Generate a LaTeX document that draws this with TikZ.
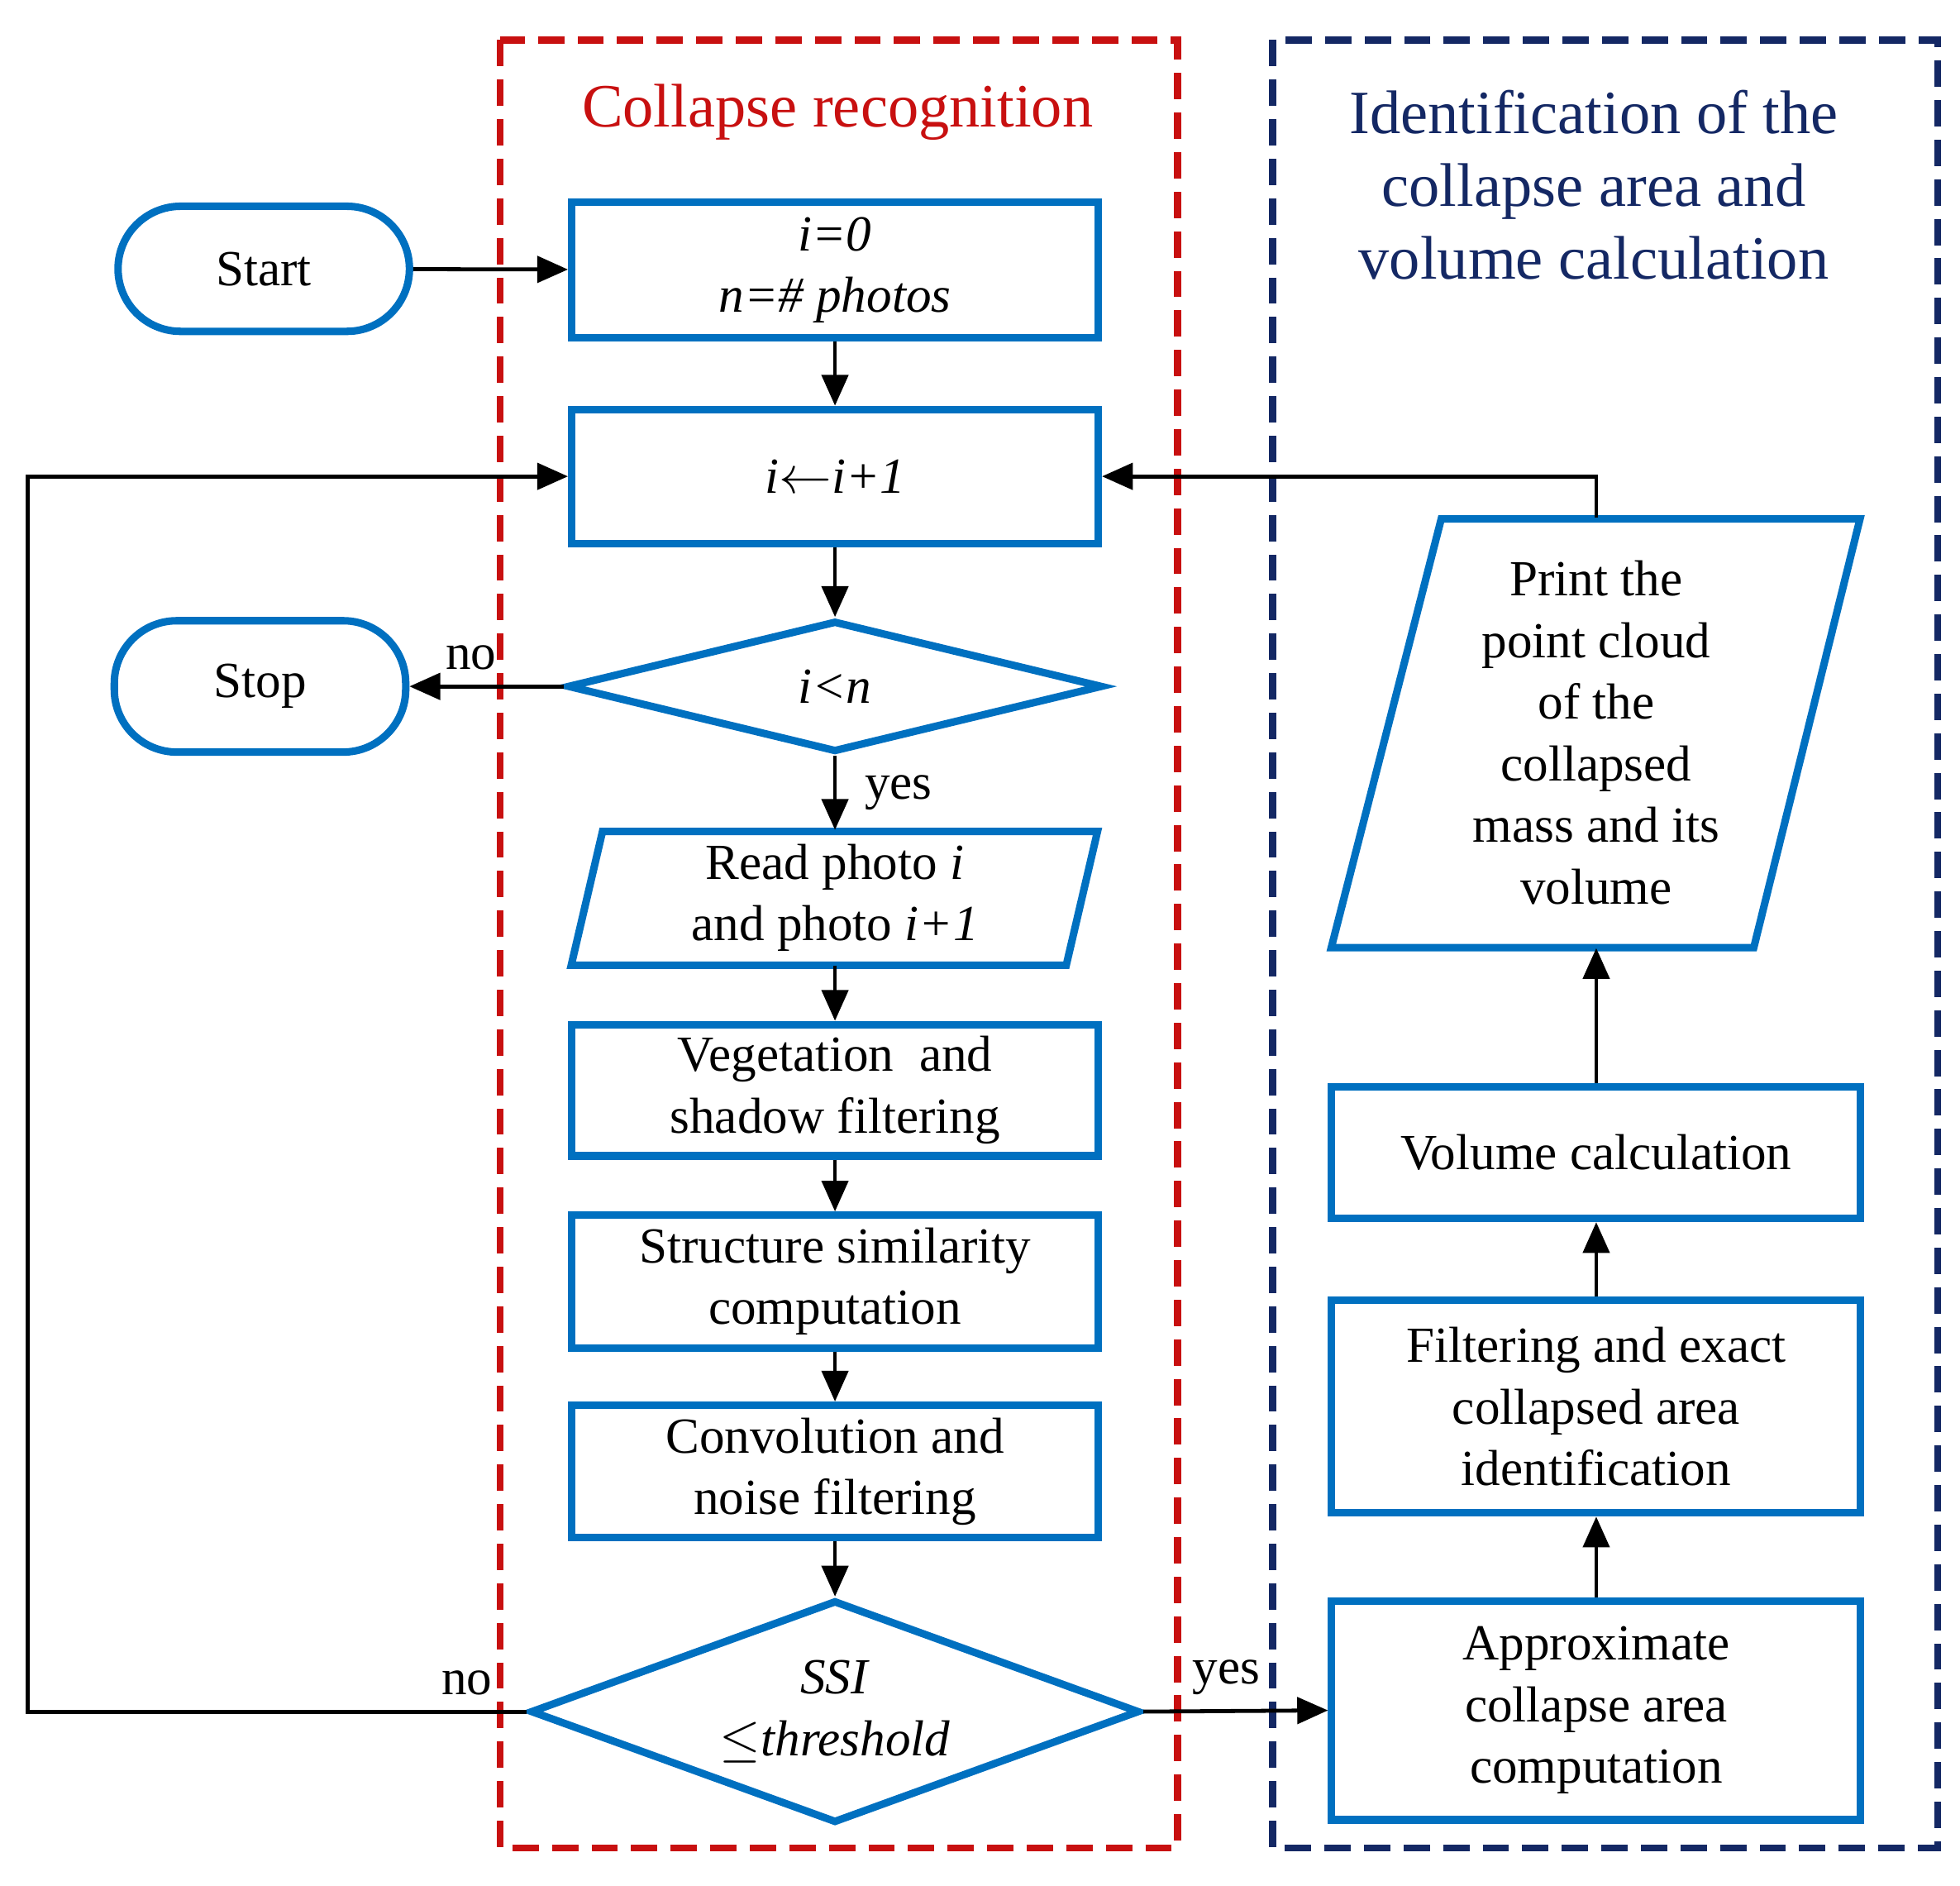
\documentclass[tikz,border=0pt]{standalone}
\usepackage{fontspec}
\setmainfont{Liberation Serif}
\usetikzlibrary{arrows.meta,shapes.geometric}
\definecolor{bl}{RGB}{0,112,192}
\definecolor{rd}{RGB}{200,16,16}
\definecolor{nv}{RGB}{20,40,100}
\begin{document}
\begin{tikzpicture}[x=0.01cm,y=-0.01cm,
 box/.style={draw=bl,line width=1.7pt,rectangle,minimum width=4.21cm,align=center,font=\fontsize{11.5}{14}\selectfont,inner sep=0pt},
 term/.style={draw=bl,line width=1.7pt,rounded corners=0.5cm,minimum width=2.33cm,minimum height=1.0cm,font=\fontsize{11.5}{14}\selectfont},
 dia/.style={draw=bl,line width=1.7pt,diamond,aspect=4,inner sep=0pt,font=\fontsize{11.5}{14}\selectfont,align=center},
 ghost/.style={rectangle,inner sep=0pt,align=center,font=\fontsize{11.5}{14}\selectfont},
 par/.style={draw=bl,line width=1.7pt,line join=miter},
 ar/.style={-{Triangle[length=7pt,width=6pt]},line width=0.9pt},
 lab/.style={font=\fontsize{11.5}{14}\selectfont},
 tit/.style={font=\fontsize{14}{16.5}\selectfont,align=center},
 dsh/.style={line width=1.6pt,dash pattern=on 6pt off 3pt}]
\useasboundingbox (0,0) rectangle (1568,1508);
\draw[rd,dsh] (400,32) rectangle (942,1478);
\draw[nv,dsh] (1018,32) rectangle (1550,1478);
\node[tit,text=rd] at (670,90) {Collapse recognition};
\node[tit,text=nv] at (1275,148) {Identification of the\\collapse area and\\volume calculation};
\node[term] (start) at (211,215) {Start};
\node[term,minimum height=1.05cm] (stop) at (208,549) {Stop};
\node[box,minimum height=1.08cm] (init) at (668,216) {\textit{i=0}\\\textit{n=\# photos}};
\node[box,minimum height=1.07cm] (inc) at (668,381) {\textit{i}$\leftarrow$\textit{i+1}};
\node[dia,minimum width=4.28cm,minimum height=1.05cm] (cmp) at (668,549) {\textit{i<n}};
\draw[par] (482,665) -- (878,665) -- (853,772) -- (457,772) -- cycle;
\node[ghost,minimum width=4.21cm,minimum height=1.07cm] (read) at (668,718) {Read photo \textit{i}\\and photo \textit{i+1}};
\node[box,minimum height=1.05cm] (veg) at (668,872) {Vegetation\ \ and\\shadow filtering};
\node[box,minimum height=1.06cm] (ssc) at (668,1025) {Structure similarity\\computation};
\node[box,minimum height=1.06cm] (conv) at (668,1177) {Convolution and\\noise filtering};
\node[dia,aspect=2.74,minimum width=4.87cm,minimum height=1.78cm] (ssi) at (668,1369) {\textit{SSI}\\\textit{$\leq$threshold}};
\draw[par] (1153,415) -- (1488,415) -- (1403,758) -- (1065,758) -- cycle;
\node[ghost,minimum width=4.23cm,minimum height=3.43cm] (print) at (1277,586) {Print the\\point cloud\\of the\\collapsed\\mass and its\\volume};
\node[box,minimum width=4.23cm,minimum height=1.05cm] (vol) at (1277,922) {Volume calculation};
\node[box,minimum width=4.23cm,minimum height=1.7cm] (filt) at (1277,1125) {Filtering and exact\\collapsed area\\identification};
\node[box,minimum width=4.23cm,minimum height=1.75cm] (appr) at (1277,1368) {Approximate\\collapse area\\computation};
\draw[ar] (start) -- (init);
\draw[ar] (init) -- (inc);
\draw[ar] (inc) -- (cmp);
\draw[ar] (cmp) -- node[lab,above,pos=0.6]{no} (stop);
\draw[ar] (cmp) -- node[lab,right,xshift=3pt]{yes} (read);
\draw[ar] (read) -- (veg);
\draw[ar] (veg) -- (ssc);
\draw[ar] (ssc) -- (conv);
\draw[ar] (conv) -- (ssi);
\coordinate (lb) at (22,1369); \coordinate (lt) at (22,381);
\draw[ar] (ssi.west) -- node[lab,above,pos=0.12]{no} (lb) -- (lt) -- (inc.west);
\draw[ar] (ssi.east) -- node[lab,above,pos=0.45]{yes} (appr.west);
\draw[ar] (appr) -- (filt);
\draw[ar] (filt) -- (vol);
\draw[ar] (vol) -- (print.south);
\coordinate (pt) at (1277,381);
\draw[ar] (print.north) -- (pt) -- (inc.east);
\end{tikzpicture}
\end{document}
